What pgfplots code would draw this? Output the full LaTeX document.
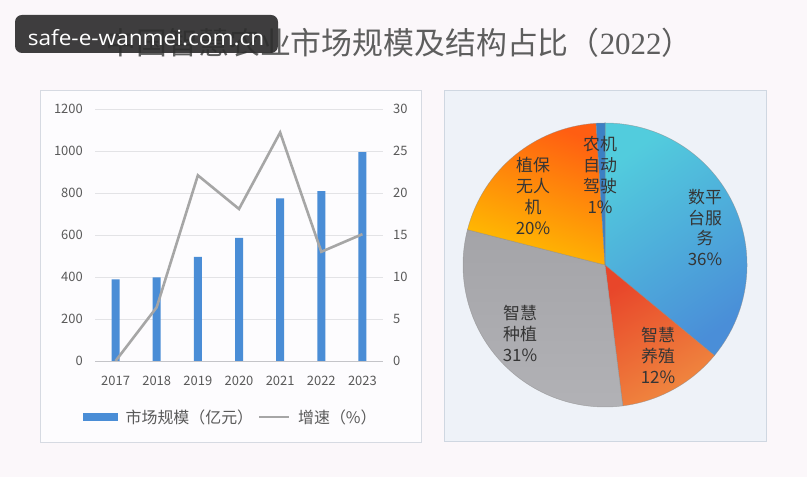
\documentclass[border=0pt]{standalone}
\usepackage{pgfplots}
\pgfplotsset{compat=1.18}
\usepackage{pgfplotstable}
\usepackage{graphicx}
\usepackage{fontspec}
\setmainfont{Noto Sans CJK SC}
\newfontfamily\wmfont{Open Sans}
\newfontfamily\serifdigits{Liberation Serif}
\definecolor{bg}{HTML}{FBF7FA}
\definecolor{panelL}{HTML}{FDFCFE}
\definecolor{borderL}{HTML}{D6DAE2}
\definecolor{panelR}{HTML}{EEF2F8}
\definecolor{borderR}{HTML}{CFD7E1}
\definecolor{barc}{HTML}{4A8DD6}
\definecolor{linec}{HTML}{A6A6A6}
\definecolor{gridc}{HTML}{E3E3E6}
\definecolor{axisc}{HTML}{C4C4C8}
\definecolor{tickc}{HTML}{595959}
\definecolor{titlec}{HTML}{5E5E5E}
\definecolor{wmc}{HTML}{2E2E2E}
\definecolor{pietext}{HTML}{353535}
\definecolor{cyanA}{HTML}{52CCDD}
\definecolor{cyanB}{HTML}{4FB8E0}
\definecolor{cyanC}{HTML}{4A8ED8}
\definecolor{redA}{HTML}{E8462A}
\definecolor{redB}{HTML}{F08A40}
\definecolor{grayA}{HTML}{A4A4A8}
\definecolor{grayB}{HTML}{B2B2B6}
\definecolor{yelA}{HTML}{FF5E12}
\definecolor{yelB}{HTML}{FFAA00}
\definecolor{yelC}{HTML}{FFC000}
\definecolor{blueS}{HTML}{3C80C4}

\pgfplotstableread{
x year size growth
0 2017 389 0
1 2018 398 6.4
2 2019 496 22.1
3 2020 586 18.1
4 2021 774 27.2
5 2022 809 13.0
6 2023 994 15.1
}\bardata

\pgfplotstableread{
idx pct
0 36
1 12
2 31
3 20
4 1
}\piedata

\tikzset{
  slice0/.style={top color=cyanA, middle color=cyanB, bottom color=cyanC, shading angle=35},
  slice1/.style={top color=redA, bottom color=redB, shading angle=30},
  slice2/.style={top color=grayA, bottom color=grayB},
  slice3/.style={top color=yelA, middle color=yelB, bottom color=yelC, shading angle=-20},
  slice4/.style={fill=blueS},
}

\begin{document}
\begin{tikzpicture}[x=1bp,y=1bp]
\fill[bg] (0,0) rectangle (807,477);
% panels
\filldraw[fill=panelL, draw=borderL, line width=0.9bp] (40.5,34.5) rectangle (421.5,386.5);
\filldraw[fill=panelR, draw=borderR, line width=0.9bp] (444,35.5) rectangle (766.5,386.5);

% title
\node[font=\fontsize{31}{31}\selectfont, text=titlec] at (399,434) {中国智慧农业市场规模及结构占比（{\serifdigits 2022}）};

% bar axis
\begin{axis}[
  scale only axis, width=288bp, height=252bp,
  at={(95bp,116bp)}, anchor=south west,
  xmin=-0.5, xmax=6.5, ymin=0, ymax=1200,
  ytick={0,200,...,1200},
  xtick={0,...,6}, xticklabels={2017,2018,2019,2020,2021,2022,2023},
  axis y line*=left, axis x line*=bottom,
  y axis line style={draw=none},
  x axis line style={draw=axisc, line width=0.9bp, -},
  ymajorgrids, grid style={draw=gridc, line width=0.9bp},
  major tick length=0pt, tick style={draw=none},
  ticklabel style={font=\fontsize{13}{13}\selectfont, text=tickc},
  /pgf/number format/assume math mode=true,
  /pgf/number format/1000 sep={},
  yticklabel style={inner sep=0pt, xshift=-12bp},
  xticklabel style={inner sep=0pt, yshift=-15bp},
  ybar, bar width=8bp,
]
\addplot[fill=barc, draw=none] table[x=x, y=size] {\bardata};
\end{axis}

% line axis
\begin{axis}[
  scale only axis, width=288bp, height=252bp,
  at={(95bp,116bp)}, anchor=south west,
  xmin=-0.5, xmax=6.5, ymin=0, ymax=30,
  ytick={0,5,...,30},
  axis y line*=right, axis x line=none,
  y axis line style={draw=none},
  major tick length=0pt, tick style={draw=none},
  ticklabel style={font=\fontsize{13}{13}\selectfont, text=tickc},
  /pgf/number format/assume math mode=true,
  yticklabel style={inner sep=0pt, xshift=10bp},
  legend style={at={(0.472,-0.222)}, anchor=center, draw=none, fill=none,
    font=\fontsize{16}{16}\selectfont, text=tickc,
    /tikz/every odd column/.append style={column sep=6bp},
    /tikz/every even column/.append style={column sep=3bp}},
  legend columns=2, legend cell align=left,
]
\addlegendimage{legend image code/.code={\fill[barc] (0bp,-3.5bp) rectangle (34bp,3.5bp);}}
\addlegendentry{市场规模（亿元）}
\addplot[linec, line width=2.6bp, legend image code/.code={\draw[linec, line width=2bp] (0bp,0bp) -- (30bp,0bp);}] table[x=x, y=growth] {\bardata};
\addlegendentry{增速（\%）}
\end{axis}

% pie axis
\begin{axis}[
  x=1bp, y=1bp, xmin=-150, xmax=150, ymin=-150, ymax=150,
  hide axis, at={(605bp,212bp)}, anchor=origin, clip=false,
]
\def\cum{90}
\pgfplotsforeachungrouped \i in {0,...,4}{%
  \pgfplotstablegetelem{\i}{pct}\of\piedata
  \pgfmathsetmacro\endang{\cum - 3.6*\pgfplotsretval}%
  \edef\temp{\noexpand\path[slice\i, draw=black!45, draw opacity=0.6, line width=0.5bp] (axis cs:0,0) -- (axis cs:{142*cos(\cum)},{142*sin(\cum)}) arc[start angle=\cum, end angle=\endang, radius=142bp] -- cycle;}%
  \temp
  \global\let\cum\endang
}
\tikzset{pielab/.style={align=center, text=pietext, font=\fontsize{17}{21}\selectfont}}
\node[pielab] at (axis cs:100,37.5) {数平\\台服\\务\\36\%};
\node[pielab] at (axis cs:53,-90.3) {智慧\\养殖\\12\%};
\node[pielab] at (axis cs:-85,-68.3) {智慧\\种植\\31\%};
\node[pielab] at (axis cs:-72,69.3) {植保\\无人\\机\\20\%};
\node[pielab] at (axis cs:-5,90) {农机\\自动\\驾驶\\1\%};
\end{axis}

% watermark
\fill[wmc, fill opacity=0.92, rounded corners=7bp] (15,424) rectangle (278,462);
\node[text=white, font=\wmfont\fontsize{21}{21}\selectfont, inner sep=0pt, anchor=base] at (146,431) {\scalebox{1.08}[1]{safe-e-wanmei.com.cn}};
\end{tikzpicture}
\end{document}
